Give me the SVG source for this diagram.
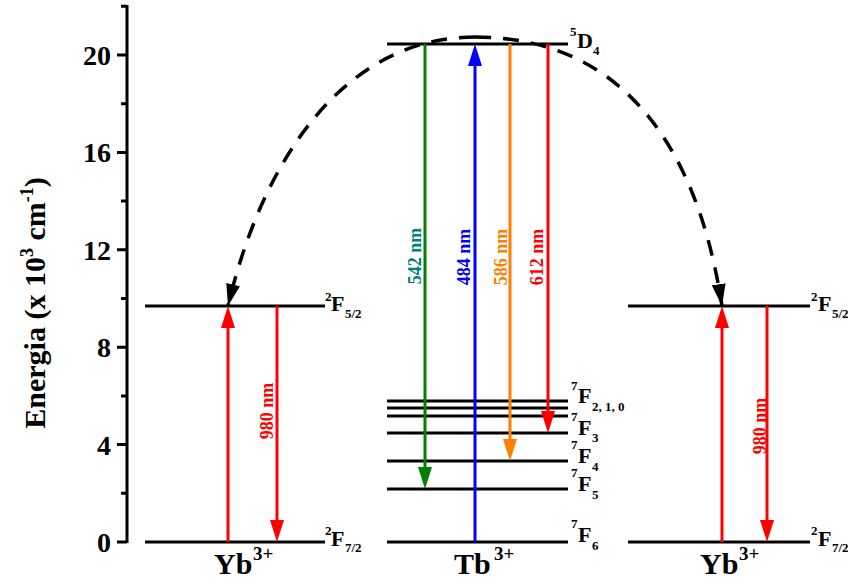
<svg xmlns="http://www.w3.org/2000/svg" width="848" height="583" viewBox="0 0 848 583">
<style>
text{font-family:"Liberation Serif","Times New Roman",serif;font-weight:bold;}
.lvl{stroke:#000;stroke-width:3;fill:none;}
.ax{stroke:#000;stroke-width:3;fill:none;}
.tick{font-size:28px;text-anchor:end;}
.dash{stroke:#000;stroke-width:3.5;fill:none;stroke-dasharray:16 12;}
.arr{stroke-width:3;fill:none;}
.wl{font-size:18px;text-anchor:middle;}
.big{font-size:22px;}
.sm{font-size:13px;}
.ion{font-size:30px;}
.ionsup{font-size:19px;}
</style>
<defs>
<marker id="hr" markerUnits="userSpaceOnUse" markerWidth="22" markerHeight="14" refX="0" refY="7" orient="auto"><path d="M0,0 L22,7 L0,14 z" fill="#ff0000"/></marker>
<marker id="hg" markerUnits="userSpaceOnUse" markerWidth="22" markerHeight="14" refX="0" refY="7" orient="auto"><path d="M0,0 L22,7 L0,14 z" fill="#008000"/></marker>
<marker id="hb" markerUnits="userSpaceOnUse" markerWidth="22" markerHeight="14" refX="0" refY="7" orient="auto"><path d="M0,0 L22,7 L0,14 z" fill="#0000ff"/></marker>
<marker id="ho" markerUnits="userSpaceOnUse" markerWidth="22" markerHeight="14" refX="0" refY="7" orient="auto"><path d="M0,0 L22,7 L0,14 z" fill="#ff8000"/></marker>
<marker id="hk" markerUnits="userSpaceOnUse" markerWidth="22" markerHeight="14" refX="22" refY="7" orient="auto"><path d="M0,0 L22,7 L0,14 z" fill="#000" stroke="none"/></marker>
</defs>

<g id="axis">
<line class="ax" x1="127" y1="5" x2="127" y2="543"/>
<path class="ax" d="M117,542H127 M117,444.6H127 M117,347.2H127 M117,249.8H127 M117,152.4H127 M117,55H127 M121,493.3H127 M121,395.9H127 M121,298.5H127 M121,201.1H127 M121,103.7H127 M121,6.3H127"/>
<text class="tick" x="111" y="552">0</text>
<text class="tick" x="111" y="454.6">4</text>
<text class="tick" x="111" y="357.2">8</text>
<text class="tick" x="111" y="259.8">12</text>
<text class="tick" x="111" y="162.4">16</text>
<text class="tick" x="111" y="65">20</text>
<text transform="translate(45,303) rotate(-90)" text-anchor="middle" font-size="30">Energia (x 10<tspan font-size="18" dy="-12">3</tspan><tspan dy="12"> cm</tspan><tspan font-size="18" dy="-12">-1</tspan><tspan dy="12">)</tspan></text>
</g>

<g id="yb-left">
<line class="lvl" x1="145" y1="306" x2="325" y2="306"/>
<line class="lvl" x1="145" y1="542" x2="325" y2="542"/>
<text class="sm" x="325" y="301">2</text><text class="big" x="331" y="311">F</text><text class="sm" x="345" y="318">5/2</text>
<text class="sm" x="325" y="535">2</text><text class="big" x="331" y="546">F</text><text class="sm" x="345" y="552">7/2</text>
<text class="ion" x="214" y="574">Yb</text><text class="ionsup" x="253" y="560">3+</text>
</g>

<g id="tb">
<line class="lvl" x1="387" y1="44" x2="568" y2="44"/>
<line class="lvl" x1="387" y1="401" x2="568" y2="401"/>
<line class="lvl" x1="387" y1="408" x2="568" y2="408"/>
<line class="lvl" x1="387" y1="416" x2="568" y2="416"/>
<line class="lvl" x1="387" y1="433" x2="568" y2="433"/>
<line class="lvl" x1="387" y1="461" x2="568" y2="461"/>
<line class="lvl" x1="387" y1="489" x2="568" y2="489"/>
<line class="lvl" x1="387" y1="542" x2="568" y2="542"/>
<text class="sm" x="570" y="36">5</text><text class="big" x="577" y="48">D</text><text class="sm" x="593" y="55">4</text>
<text class="sm" x="571" y="390">7</text><text class="big" x="578" y="403">F</text><text class="sm" x="592" y="411">2, 1, 0</text>
<text class="sm" x="571" y="421">7</text><text class="big" x="578" y="435">F</text><text class="sm" x="592" y="442">3</text>
<text class="sm" x="571" y="449">7</text><text class="big" x="578" y="463">F</text><text class="sm" x="592" y="471">4</text>
<text class="sm" x="571" y="477">7</text><text class="big" x="578" y="491">F</text><text class="sm" x="592" y="499">5</text>
<text class="sm" x="571" y="528">7</text><text class="big" x="578" y="542">F</text><text class="sm" x="592" y="550">6</text>
<text class="ion" x="454" y="574">Tb</text><text class="ionsup" x="494" y="560">3+</text>
</g>

<g id="yb-right">
<line class="lvl" x1="628" y1="306" x2="810" y2="306"/>
<line class="lvl" x1="628" y1="542" x2="810" y2="542"/>
<text class="sm" x="811" y="301">2</text><text class="big" x="818" y="311">F</text><text class="sm" x="832" y="318">5/2</text>
<text class="sm" x="811" y="535">2</text><text class="big" x="818" y="546">F</text><text class="sm" x="832" y="552">7/2</text>
<text class="ion" x="700" y="574">Yb</text><text class="ionsup" x="739" y="560">3+</text>
</g>

<g id="connectors">
<line class="arr" stroke="#ff0000" x1="228" y1="542" x2="228" y2="328" marker-end="url(#hr)"/>
<line class="arr" stroke="#ff0000" x1="277" y1="306" x2="277" y2="520" marker-end="url(#hr)"/>
<line class="arr" stroke="#008000" x1="425" y1="44" x2="425" y2="467" marker-end="url(#hg)"/>
<line class="arr" stroke="#0000ff" x1="475" y1="542" x2="475" y2="66" marker-end="url(#hb)"/>
<line class="arr" stroke="#ff8000" x1="510" y1="44" x2="510" y2="439" marker-end="url(#ho)"/>
<line class="arr" stroke="#ff0000" x1="548" y1="44" x2="548" y2="411" marker-end="url(#hr)"/>
<line class="arr" stroke="#ff0000" x1="722" y1="542" x2="722" y2="328" marker-end="url(#hr)"/>
<line class="arr" stroke="#ff0000" x1="767" y1="306" x2="767" y2="520" marker-end="url(#hr)"/>
<path class="dash" d="M475,37 C350,37 265,150 228,306" marker-end="url(#hk)"/>
<path class="dash" d="M475,37 C610,37 695,130 722,306" marker-end="url(#hk)"/>
<text class="wl" fill="#008080" transform="translate(421,256) rotate(-90)">542 nm</text>
<text class="wl" fill="#0000ff" transform="translate(470,257) rotate(-90)">484 nm</text>
<text class="wl" fill="#ff8000" transform="translate(507,257) rotate(-90)">586 nm</text>
<text class="wl" fill="#ff0000" transform="translate(543,257) rotate(-90)">612 nm</text>
<text class="wl" fill="#ff0000" transform="translate(273,411) rotate(-90)">980 nm</text>
<text class="wl" fill="#ff0000" transform="translate(766,426) rotate(-90)">980 nm</text>
</g>
</svg>
